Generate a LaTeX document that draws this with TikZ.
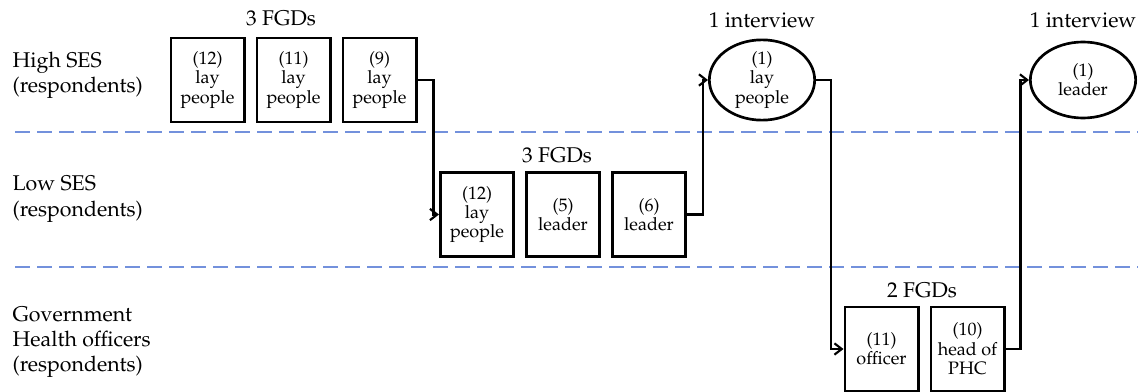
\documentclass[tikz,border=0pt]{standalone}
\usepackage[T1]{fontenc}
\usepackage{mathpazo}
\usetikzlibrary{positioning,shapes.geometric,arrows.meta}

\definecolor{laneblue}{RGB}{115,145,220}

\begin{document}
\begin{tikzpicture}[x=0.75pt, y=-0.75pt, node distance=7.5pt,
	fgd/.style={draw, line width=2pt, minimum width=55pt, minimum height=63pt, inner sep=1pt, align=center, font=\fontsize{13.5}{14.5}\selectfont},
	iview/.style={draw, ellipse, line width=2pt, minimum width=79pt, minimum height=57pt, inner sep=0pt, align=center, font=\fontsize{13.5}{14.5}\selectfont},
	grouplabel/.style={font=\fontsize{16}{19}\selectfont},
	rowlabel/.style={anchor=west, align=left, font=\fontsize{16}{19}\selectfont},
	lane/.style={draw=laneblue, line width=1pt, dash pattern=on 11.25pt off 5.25pt},
	flow/.style={line width=1.6pt, -{Straight Barb[length=5.5pt,width=8.5pt]}}]
	\useasboundingbox (0,0) rectangle (1138,392);

	% rows
	\node[rowlabel] (high) at (8,75) {High SES\\(respondents)};
	\node[rowlabel] (low) at (8,199) {Low SES\\(respondents)};
	\node[rowlabel] (gov) at (8,342) {Government\\Health officers\\(respondents)};
	\coordinate (lane1) at (15,132);
	\coordinate (lane2) at (15,267);
	\draw[lane] (lane1) -- (lane1 -| 1138,0);
	\draw[lane] (lane2) -- (lane2 -| 1138,0);

	% high SES
	\node[fgd] (h1) at (207.5,80) {(12)\\lay\\people};
	\node[fgd,right=of h1] (h2) {(11)\\lay\\people};
	\node[fgd,right=of h2] (h3) {(9)\\lay\\people};
	\node[grouplabel] (hg) at (281,18) {3 FGDs};

	% low SES
	\node[fgd] (l1) at (477,214.5) {(12)\\lay\\people};
	\node[fgd,right=of l1] (l2) {(5)\\leader};
	\node[fgd,right=of l2] (l3) {(6)\\leader};
	\node[grouplabel] (lg) at (557,155) {3 FGDs};

	% interviews
	\node[iview] (e1) at (762,80) {(1)\\lay\\people};
	\node[grouplabel] (eg1) at (762,20) {1 interview};
	\node[iview] (e2) at (1083,80) {(1)\\leader};
	\node[grouplabel] (eg2) at (1083,20) {1 interview};

	% government
	\node[fgd] (g1) at (881.5,349) {(11)\\officer};
	\node[fgd,right=of g1] (g2) {(10)\\head of\\PHC};
	\node[grouplabel] (gg) at (922,290) {2 FGDs};

	\draw[flow] (h3.east) -- ++(16,0) |- (l1.west);
	\draw[flow] (l3.east) -- ++(16,0) |- (e1.west);
	\draw[flow] (e1.east) -- ++(15,0) |- (g1.west);
	\draw[flow] (g2.east) -- ++(15,0) |- (e2.west);
\end{tikzpicture}
\end{document}
